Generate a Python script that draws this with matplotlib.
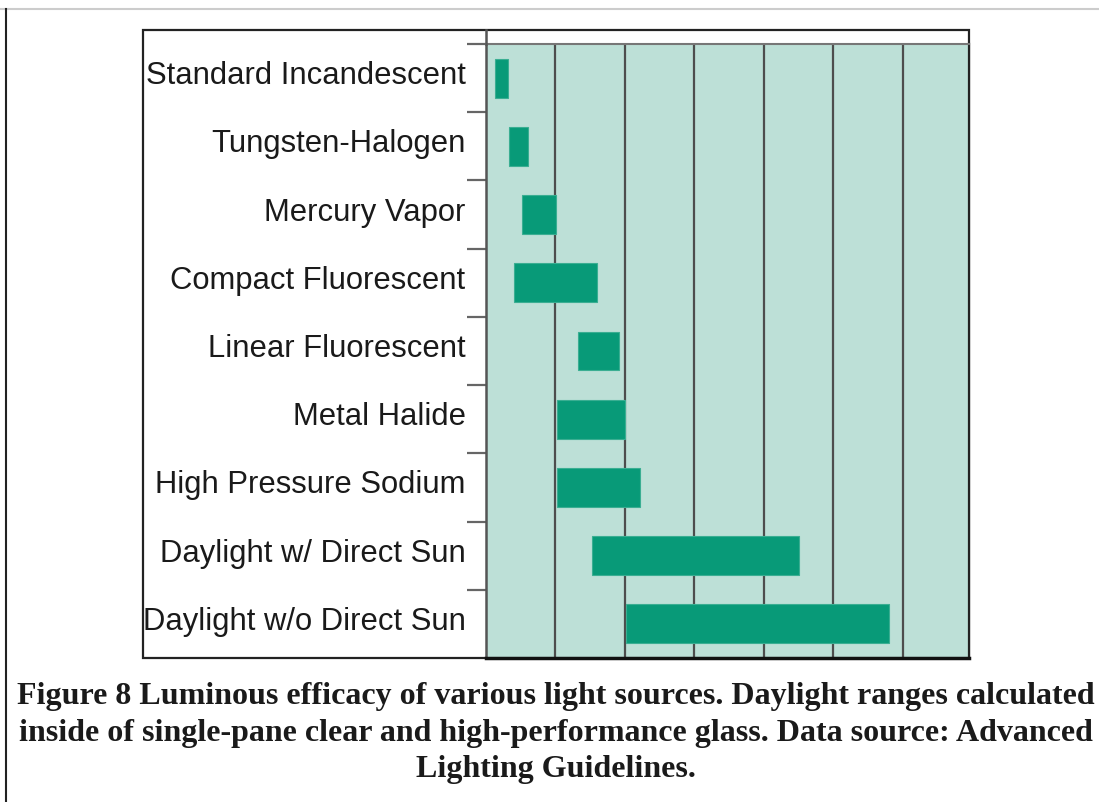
import matplotlib.pyplot as plt
from matplotlib.patches import Rectangle
from matplotlib.lines import Line2D

# light sources, top to bottom, with efficacy range (chart units, grid every 20)
sources = ['Standard Incandescent', 'Tungsten-Halogen', 'Mercury Vapor',
           'Compact Fluorescent', 'Linear Fluorescent', 'Metal Halide',
           'High Pressure Sodium', 'Daylight w/ Direct Sun',
           'Daylight w/o Direct Sun']
low = [2.6, 6.7, 10.5, 8.1, 26.4, 20.5, 20.5, 30.4, 40.4]
high = [6.2, 12.2, 20.1, 32.0, 38.2, 40.1, 44.3, 90.2, 115.9]
grid_x = [20, 40, 60, 80, 100, 120]

caption = ('Figure 8 Luminous efficacy of various light sources. Daylight ranges calculated\n'
           'inside of single-pane clear and high-performance glass. Data source: Advanced\n'
           'Lighting Guidelines.')

W, H = 1099, 802
fig = plt.figure(figsize=(W / 100, H / 100), dpi=100)

def fx(px):
    return px / W

def fy(py):
    return 1 - py / H

# plot area
ax = fig.add_axes([fx(486), fy(658), fx(969) - fx(486), fy(44) - fy(658)])
ax.set_facecolor('#bde0d7')
n = len(sources)
ypos = list(range(n))
ax.barh(ypos, [h - l for l, h in zip(low, high)], left=low, height=0.57,
        color='#089a78', edgecolor='#3aae92', linewidth=0.8, zorder=3)
ax.set_xlim(0, 139)
ax.set_ylim(n - 0.5, -0.5)
ax.set_xticks(grid_x)
ax.set_xticklabels([])
ax.tick_params(axis='x', length=0)
ax.grid(axis='x', color='#4d4d4d', linewidth=1.6, zorder=1)
ax.set_axisbelow(True)
ax.set_yticks([i - 0.5 for i in range(n)])
ax.set_yticklabels([])
ax.tick_params(axis='y', length=14, width=1.6, color='#666666', direction='out')
for i, s in enumerate(sources):
    ax.text(-20.5 / 3.48, i - 0.03, s, ha='right', va='center', fontsize=22.3,
            family='Liberation Sans', color='#1a1a1a')
ax.spines['top'].set_color('#777777')
ax.spines['top'].set_linewidth(1.5)
ax.spines['left'].set_color('#555555')
ax.spines['left'].set_linewidth(1.8)
ax.spines['right'].set_color('#222222')
ax.spines['right'].set_linewidth(1.6)
ax.spines['bottom'].set_color('#111111')
ax.spines['bottom'].set_linewidth(2.5)

# outer chart box and axis extension above plot area
fig.add_artist(Rectangle((fx(143), fy(658)), fx(969) - fx(143), fy(30) - fy(658),
                         transform=fig.transFigure, fill=False,
                         edgecolor='#222222', linewidth=1.6, zorder=0))
fig.add_artist(Line2D([fx(486), fx(486)], [fy(44), fy(30)], color='#555555',
                      linewidth=1.8))

# page edges
fig.add_artist(Line2D([0, 1], [fy(9), fy(9)], color='#cccccc', linewidth=1.5))
fig.add_artist(Line2D([fx(6), fx(6)], [fy(9), 0], color='#222222', linewidth=1.5))

fig.text(fx(556), fy(733), caption, ha='center', va='center', fontsize=23,
         family='Liberation Serif', weight='bold', color='#1a1a1a',
         linespacing=1.32)

fig.savefig('out.png', dpi=100)
